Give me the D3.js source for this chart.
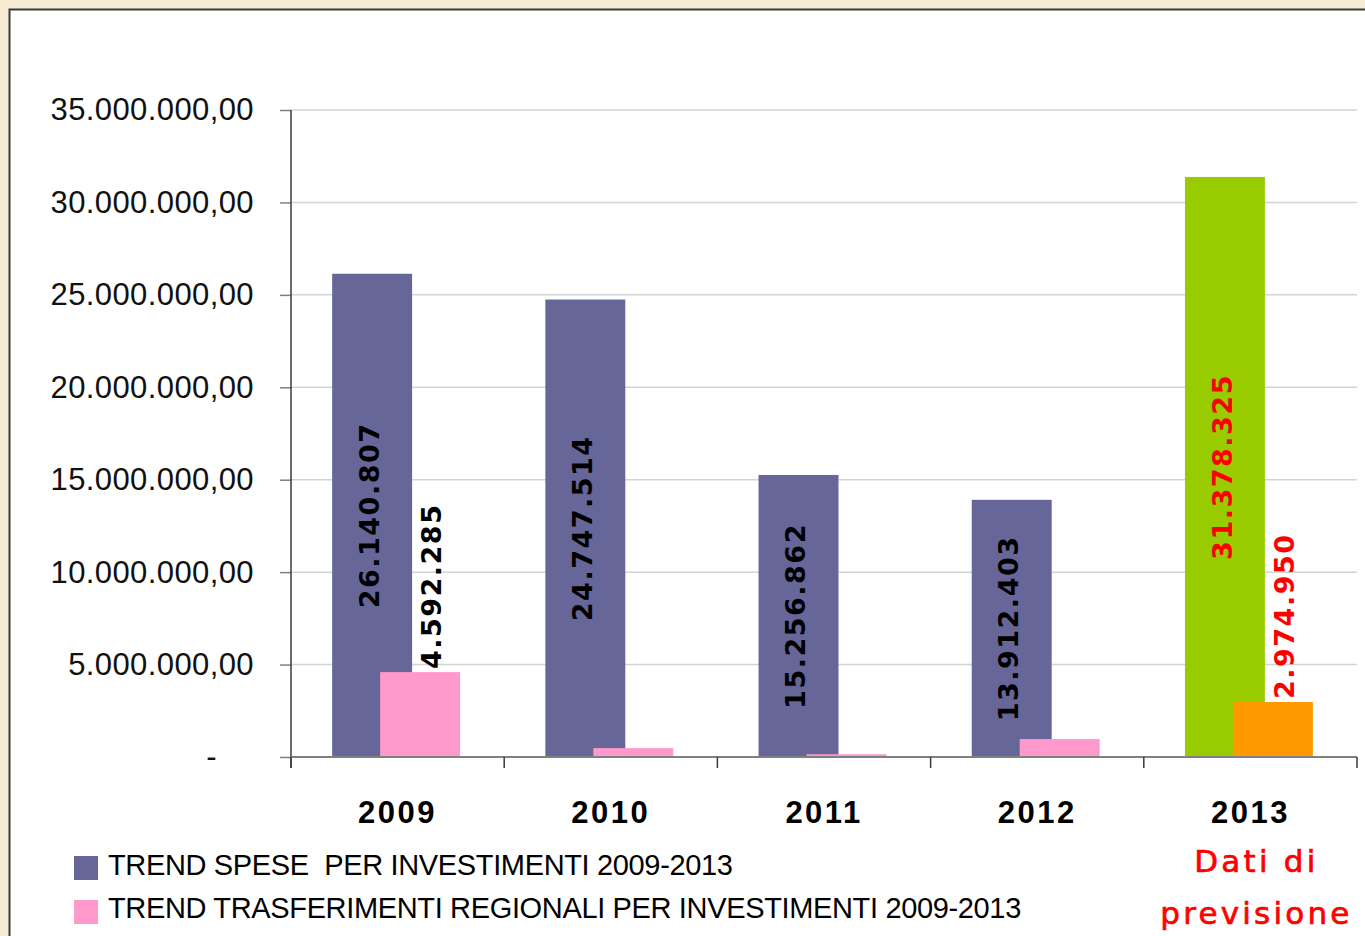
<!DOCTYPE html>
<html>
<head>
<meta charset="utf-8">
<script src="https://cdn.jsdelivr.net/npm/d3@7"></script>
<style>
  body { margin: 0; background: #f6ebd3; }
  svg { display: block; }
  text { white-space: pre; }
</style>
</head>
<body>
<svg width="1365" height="936"></svg>
<script>
const years = ['2009', '2010', '2011', '2012', '2013'];
const spese = [26140807, 24747514, 15256862, 13912403, 31378325];
const trasferimenti = [4592285, 480000, 150000, 970000, 2974950];
const speseShowLabel = [true, true, true, true, true];
const trasfShowLabel = [true, false, false, false, true];
const yTicks = [0, 5000000, 10000000, 15000000, 20000000, 25000000, 30000000, 35000000];
const legendNames = [
  'TREND SPESE  PER INVESTIMENTI 2009-2013',
  'TREND TRASFERIMENTI REGIONALI PER INVESTIMENTI 2009-2013'
];
const forecastYear = '2013';
const forecastNote = ['Dati di', 'previsione'];

const svg = d3.select('svg');
const width = +svg.attr('width');
const height = +svg.attr('height');

const colors = {spese: '#666699', trasf: '#ff99cc', speseF: '#99cc00', trasfF: '#ff9900'};

const itLocale = d3.formatLocale({decimal: ',', thousands: '.', grouping: [3], currency: ['', '']});
const tickFmt = itLocale.format(',.2f');
const labelFmt = itLocale.format(',d');

const data = years.map((y, i) => ({
  year: y,
  spese: spese[i],
  trasf: trasferimenti[i],
  showS: speseShowLabel[i],
  showT: trasfShowLabel[i],
  forecast: y === forecastYear
}));

// cornice
svg.append('rect')
  .attr('x', 9.5).attr('y', 9.5)
  .attr('width', width).attr('height', height)
  .attr('fill', '#ffffff')
  .attr('stroke', '#3a3a3a')
  .attr('stroke-width', 2);

const plot = {left: 291, right: 1357, top: 110, bottom: 757};

const xScale = d3.scaleBand()
  .domain(years)
  .range([plot.left, plot.right])
  .padding(0);

const yScale = d3.scaleLinear()
  .domain([0, 35000000])
  .range([plot.bottom, plot.top]);

// griglia
svg.append('g')
  .selectAll('line').data(yTicks.filter(d => d > 0))
  .enter().append('line')
  .attr('x1', plot.left).attr('x2', plot.right)
  .attr('y1', d => yScale(d)).attr('y2', d => yScale(d))
  .attr('stroke', '#d4d4d4')
  .attr('stroke-width', 1.5);

// barre
const bw = xScale.bandwidth();
const sOff = bw * 0.193, tOff = bw * 0.418, barW = bw * 0.375;

const bars = svg.append('g');
bars.selectAll('rect.s').data(data)
  .enter().append('rect')
  .attr('class', 's')
  .attr('x', d => xScale(d.year) + sOff)
  .attr('y', d => yScale(d.spese))
  .attr('width', barW)
  .attr('height', d => yScale(0) - yScale(d.spese))
  .attr('fill', d => d.forecast ? colors.speseF : colors.spese);

bars.selectAll('rect.t').data(data)
  .enter().append('rect')
  .attr('class', 't')
  .attr('x', d => xScale(d.year) + tOff)
  .attr('y', d => yScale(d.trasf))
  .attr('width', barW)
  .attr('height', d => yScale(0) - yScale(d.trasf))
  .attr('fill', d => d.forecast ? colors.trasfF : colors.trasf);

// asse y
const yAxis = d3.axisLeft(yScale)
  .tickValues(yTicks)
  .tickFormat(d => d === 0 ? '-' : tickFmt(d))
  .tickSize(11)
  .tickPadding(26);

const yAxisG = svg.append('g')
  .attr('transform', `translate(${plot.left},0)`)
  .call(yAxis);
yAxisG.select('.domain').remove();
yAxisG.selectAll('.tick line').attr('stroke', '#7f7f7f').attr('stroke-width', 1.5);
yAxisG.selectAll('.tick text')
  .attr('font-family', '"Liberation Sans", Arial, sans-serif')
  .attr('font-size', 31)
  .attr('letter-spacing', 0.4)
  .attr('fill', '#111')
  .attr('dx', d => d === 0 ? -37 : 0);
svg.append('line')
  .attr('x1', plot.left).attr('x2', plot.left)
  .attr('y1', plot.top).attr('y2', plot.bottom + 11)
  .attr('stroke', '#3a3a3a').attr('stroke-width', 1.5);

// asse x
const xAxis = d3.axisBottom(xScale).tickSize(0).tickPadding(50);
const xAxisG = svg.append('g')
  .attr('transform', `translate(0,${plot.bottom})`)
  .call(xAxis);
xAxisG.select('.domain').remove();
xAxisG.selectAll('.tick text')
  .attr('font-family', '"Liberation Sans", Arial, sans-serif')
  .attr('font-weight', 'bold')
  .attr('font-size', 31)
  .attr('letter-spacing', 2.5)
  .attr('dy', 0)
  .attr('y', 66)
  .attr('fill', '#000');

svg.append('line')
  .attr('x1', plot.left).attr('x2', plot.right)
  .attr('y1', plot.bottom).attr('y2', plot.bottom)
  .attr('stroke', '#7f7f7f').attr('stroke-width', 2);
svg.append('g')
  .selectAll('line').data(years.map(y => xScale(y)).concat([plot.right]))
  .enter().append('line')
  .attr('x1', d => d).attr('x2', d => d)
  .attr('y1', plot.bottom).attr('y2', plot.bottom + 11)
  .attr('stroke', '#3a3a3a').attr('stroke-width', 1.5);

// etichette valori
const labelFont = '"DejaVu Sans", Verdana, sans-serif';
const labels = svg.append('g')
  .attr('font-family', labelFont)
  .attr('font-weight', 'bold')
  .attr('font-size', 27)
  .attr('letter-spacing', 1.5);

labels.selectAll('text.s').data(data.filter(d => d.showS))
  .enter().append('text')
  .attr('class', 's')
  .attr('transform', d => {
    const cx = xScale(d.year) + sOff + barW / 2 - 3;
    const cy = (yScale(d.spese) + yScale(0)) / 2;
    return `translate(${cx},${cy}) rotate(-90)`;
  })
  .attr('text-anchor', 'middle')
  .attr('dy', '0.36em')
  .attr('fill', d => d.forecast ? '#ff0000' : '#000')
  .text(d => labelFmt(d.spese));

labels.selectAll('text.t').data(data.filter(d => d.showT))
  .enter().append('text')
  .attr('class', 't')
  .attr('transform', d => {
    const cx = xScale(d.year) + tOff + barW / 2 + 11;
    const cy = yScale(d.trasf) - 3;
    return `translate(${cx},${cy}) rotate(-90)`;
  })
  .attr('text-anchor', 'start')
  .attr('dy', '0.36em')
  .attr('fill', d => d.forecast ? '#ff0000' : '#000')
  .text(d => labelFmt(d.trasf));

// nota previsione
const noteX = xScale(forecastYear) + bw / 2 + 6;
svg.append('g')
  .selectAll('text').data(forecastNote)
  .enter().append('text')
  .attr('x', noteX)
  .attr('y', (d, i) => 872 + i * 52)
  .attr('text-anchor', 'middle')
  .attr('font-family', labelFont)
  .attr('font-size', 31)
  .attr('letter-spacing', 3.2)
  .attr('fill', '#ff0000')
  .attr('stroke', '#ff0000')
  .attr('stroke-width', 0.7)
  .text(d => d);

// legenda
const legend = svg.append('g').attr('transform', 'translate(74,856)');
const legendColors = [colors.spese, colors.trasf];
legend.selectAll('rect').data(legendNames)
  .enter().append('rect')
  .attr('x', 0)
  .attr('y', (d, i) => i * 44)
  .attr('width', 24).attr('height', 24)
  .attr('fill', (d, i) => legendColors[i]);
legend.selectAll('text').data(legendNames)
  .enter().append('text')
  .attr('x', 34)
  .attr('y', (d, i) => 19 + i * 43)
  .attr('font-family', '"Liberation Sans", Arial, sans-serif')
  .attr('font-size', 29)
  .attr('letter-spacing', -0.35)
  .attr('fill', '#000')
  .text(d => d);
</script>
</body>
</html>
